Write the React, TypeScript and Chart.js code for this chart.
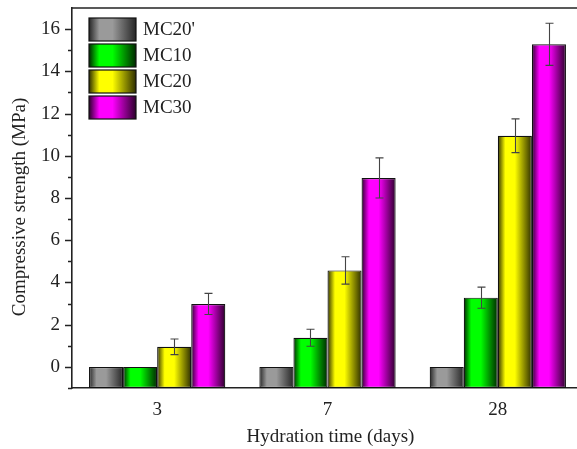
import React, { useEffect, useRef } from "react";
import { Chart, registerables } from "chart.js";

Chart.register(...registerables);

const categories = ["3", "7", "28"];
const seriesLabels = ["MC20'", "MC10", "MC20", "MC30"];
const mc20pValues = [0, 0, 0];
const mc10Values = [0, 1.38, 3.28];
const mc20Values = [0.95, 4.57, 10.95];
const mc30Values = [2.98, 8.95, 15.28];
const mc20pErrors = [0, 0, 0];
const mc10Errors = [0, 0.4, 0.5];
const mc20Errors = [0.37, 0.65, 0.8];
const mc30Errors = [0.5, 0.95, 1.0];
const yMajorTicks = [0, 2, 4, 6, 8, 10, 12, 14, 16];
const yMinorTicks = [-1, 1, 3, 5, 7, 9, 11, 13, 15];
const xTitle = "Hydration time (days)";
const yTitle = "Compressive strength (MPa)";
const brightColors = ["#9a9a9a", "#00ff00", "#ffff00", "#ff00ff"];
const darkColors = ["#262626", "#002a00", "#2e2e00", "#2c002c"];

const FONT = "'Liberation Serif', 'Times New Roman', serif";
const TEXT = "#222222";

function makeGradient(c: CanvasRenderingContext2D, x0: number, x1: number, i: number) {
  const g = c.createLinearGradient(x0, 0, x1, 0);
  g.addColorStop(0, darkColors[i]);
  g.addColorStop(0.22, brightColors[i]);
  g.addColorStop(0.5, brightColors[i]);
  g.addColorStop(1, darkColors[i]);
  return g;
}

const frameAndTicks = {
  id: "frameAndTicks",
  afterDraw(chart: any) {
    const c = chart.ctx;
    const { left, right, top, bottom } = chart.chartArea;
    const y = chart.scales.y;
    c.save();
    c.strokeStyle = "#222";
    c.lineWidth = 1.6;
    c.beginPath();
    c.moveTo(left, top);
    c.lineTo(right + 10, top);
    c.stroke();
    c.lineWidth = 1.3;
    c.beginPath();
    yMajorTicks.forEach((v) => {
      const p = Math.round(y.getPixelForValue(v)) + 0.5;
      c.moveTo(left - 7, p);
      c.lineTo(left, p);
    });
    yMinorTicks.forEach((v) => {
      const p = Math.round(y.getPixelForValue(v)) + 0.5;
      c.moveTo(left - 4, p);
      c.lineTo(left, p);
    });
    c.stroke();
    // axis titles
    c.fillStyle = TEXT;
    c.font = `19px ${FONT}`;
    c.textAlign = "center";
    c.textBaseline = "middle";
    c.fillText(xTitle, (left + right) / 2 + 3, bottom + 49);
    c.translate(20, (top + bottom) / 2 + 9);
    c.rotate(-Math.PI / 2);
    c.fillText(yTitle, 0, 0);
    c.restore();
  },
};

const errorBars = {
  id: "errorBars",
  afterDatasetsDraw(chart: any) {
    const c = chart.ctx;
    const y = chart.scales.y;
    c.save();
    c.strokeStyle = "#444";
    c.lineWidth = 1.1;
    chart.data.datasets.forEach((ds: any, di: number) => {
      const meta = chart.getDatasetMeta(di);
      meta.data.forEach((el: any, i: number) => {
        const e = ds.errors[i];
        if (!e) return;
        const v = ds.data[i];
        const yt = y.getPixelForValue(v + e);
        const yb = y.getPixelForValue(v - e);
        const x = Math.round(el.x) + 0.5;
        c.beginPath();
        c.moveTo(x, yt);
        c.lineTo(x, yb);
        c.moveTo(x - 4, yt);
        c.lineTo(x + 4, yt);
        c.moveTo(x - 4, yb);
        c.lineTo(x + 4, yb);
        c.stroke();
      });
    });
    c.restore();
  },
};

const customLegend = {
  id: "customLegend",
  afterDraw(chart: any) {
    const c = chart.ctx;
    const { left, top } = chart.chartArea;
    const bx = left + 17;
    const bw = 47;
    const bh = 23;
    c.save();
    chart.data.datasets.forEach((ds: any, i: number) => {
      const by = top + 10 + i * 26;
      c.fillStyle = makeGradient(c, bx, bx + bw, i);
      c.fillRect(bx, by, bw, bh);
      c.strokeStyle = "#111";
      c.lineWidth = 1.2;
      c.strokeRect(bx, by, bw, bh);
      c.fillStyle = TEXT;
      c.font = `19px ${FONT}`;
      c.textBaseline = "middle";
      c.textAlign = "left";
      c.fillText(ds.label, bx + bw + 7, by + bh / 2 + 1);
    });
    c.restore();
  },
};

export default function App() {
  const ref = useRef<HTMLCanvasElement>(null);
  useEffect(() => {
    if (!ref.current) return;
    const values = [mc20pValues, mc10Values, mc20Values, mc30Values];
    const errors = [mc20pErrors, mc10Errors, mc20Errors, mc30Errors];
    const chart = new Chart(ref.current, {
      type: "bar",
      data: {
        labels: categories,
        datasets: seriesLabels.map((label, i) => ({
          label,
          data: values[i],
          errors: errors[i],
          base: -1,
          borderColor: "#111",
          borderWidth: 1.2,
          borderSkipped: false,
          backgroundColor: (ctx: any) => {
            const el = ctx.element;
            if (!el || el.x == null || !el.width || isNaN(el.x)) return brightColors[i];
            return makeGradient(ctx.chart.ctx, el.x - el.width / 2, el.x + el.width / 2, i);
          },
          categoryPercentage: 0.8,
          barPercentage: 1.0,
        })) as any,
      },
      options: {
        animation: false,
        responsive: false,
        events: [],
        layout: { padding: { left: 0, top: 8, right: 8, bottom: 0 } },
        plugins: { legend: { display: false }, tooltip: { enabled: false } },
        scales: {
          x: {
            offset: true,
            grid: { display: false, drawTicks: false },
            border: { display: true, color: "#222", width: 1.6 },
            ticks: { color: TEXT, font: { family: FONT, size: 19 }, padding: 11 },
            afterFit: (s: any) => {
              s.height = 61;
              s.paddingLeft = 0;
              s.paddingRight = 0;
            },
          },
          y: {
            min: -1,
            max: 17,
            grid: { display: false, drawTicks: false },
            border: { display: true, color: "#222", width: 1.6 },
            afterBuildTicks: (s: any) => {
              s.ticks = yMajorTicks.map((v) => ({ value: v }));
            },
            ticks: { color: TEXT, font: { family: FONT, size: 19 }, padding: 12 },
            afterFit: (s: any) => {
              s.width = 72;
              s.paddingTop = 0;
              s.paddingBottom = 0;
            },
          },
        },
      },
      plugins: [errorBars, frameAndTicks, customLegend],
    });
    chart.update();
    return () => chart.destroy();
  }, []);
  return (
    <div
      style={{
        position: "fixed",
        left: 0,
        top: 0,
        width: 577,
        height: 449,
        overflow: "hidden",
        background: "#fff",
      }}
    >
      <canvas ref={ref} width={591} height={449} style={{ display: "block" }} />
    </div>
  );
}
